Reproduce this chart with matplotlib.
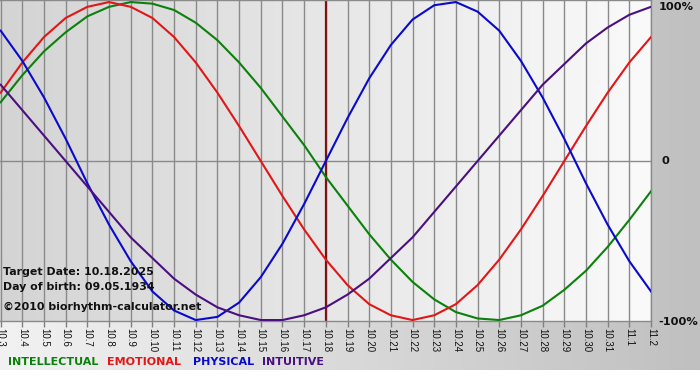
import numpy as np
import matplotlib
matplotlib.use('Agg')
import matplotlib.pyplot as plt
import matplotlib.transforms as mtransforms
from matplotlib.colors import LinearSegmentedColormap

# ---------------- data ----------------
dates = ['10.3', '10.4', '10.5', '10.6', '10.7', '10.8', '10.9', '10.10', '10.11',
         '10.12', '10.13', '10.14', '10.15', '10.16', '10.17', '10.18', '10.19',
         '10.20', '10.21', '10.22', '10.23', '10.24', '10.25', '10.26', '10.27',
         '10.28', '10.29', '10.30', '10.31', '11.1', '11.2']
intellectual = [37, 54, 69, 81, 91, 97, 100, 99, 95, 87, 76, 62, 46, 28, 10, -10,
                -28, -46, -62, -76, -87, -95, -99, -100, -97, -91, -81, -69, -54, -37, -19]
emotional = [43, 62, 78, 90, 97, 100, 97, 90, 78, 62, 43, 22, 0, -22, -43, -62,
             -78, -90, -97, -100, -97, -90, -78, -62, -43, -22, 0, 22, 43, 62, 78]
physical = [82, 63, 40, 14, -14, -40, -63, -82, -94, -100, -98, -89, -73, -52, -27, 0,
            27, 52, 73, 89, 98, 100, 94, 82, 63, 40, 14, -14, -40, -63, -82]
intuitive = [48, 32, 16, 0, -16, -32, -48, -61, -74, -84, -92, -97, -100, -100, -97, -92,
             -84, -74, -61, -48, -32, -16, 0, 16, 32, 48, 61, 74, 84, 92, 97]
series_names = ['INTELLECTUAL', 'EMOTIONAL', 'PHYSICAL', 'INTUITIVE']
target_date = '10.18'
info_lines = ['Target Date: 10.18.2025', 'Day of birth: 09.05.1934',
              '\u00a92010 biorhythm-calculator.net']
y_ticks = [100, 0, -100]
y_tick_labels = ['100%', '0', '-100%']

# ---------------- styling ----------------
colors = ['#0c800c', '#e21616', '#0a0acc', '#4a0f80']
W, H = 700, 380
fig = plt.figure(figsize=(W / 100, H / 100), dpi=100)
fig.patch.set_facecolor('white')

# outer gradient frame
bg = fig.add_axes([0, 10 / H, 1, 1 - 10 / H])
bg.imshow(np.linspace(0, 1, 256)[None, :], aspect='auto',
          cmap=LinearSegmentedColormap.from_list('bg', ['#f2f2f2', '#c0c0c0']),
          extent=[0, 1, 0, 1])
bg.set_axis_off()

ax = fig.add_axes([0, (H - 321) / H, 651 / W, 321 / H])
x = np.arange(len(dates))
x0, x1 = -0.03, len(dates) - 1
y0, y1 = -100.6, 101.3
ax.imshow(np.linspace(0, 1, 256)[None, :], aspect='auto',
          cmap=LinearSegmentedColormap.from_list('pl', ['#d4d4d4', '#fafafa']),
          extent=[x0, x1, y0, y1], zorder=0)
ax.set_xlim(x0, x1)
ax.set_ylim(y0, y1)

ax.set_xticks(x)
ax.set_xticklabels(dates, rotation=-90, fontfamily='Liberation Sans', fontsize=7,
                   color='#111111')
ax.tick_params(axis='x', direction='out', length=4, width=1, color='#808080', pad=1)
ax.set_yticks([])
ax.grid(axis='x', color='#8a8a8a', lw=1, zorder=1)
ax.axhline(0, color='#8a8a8a', lw=1, zorder=1)
ax.spines['left'].set_visible(False)
for side in ['right', 'bottom', 'top']:
    ax.spines[side].set_color('#8a8a8a')
    ax.spines[side].set_linewidth(1)

ax.axvline(dates.index(target_date), color='#7a1414', lw=1.6, zorder=2)

for vals, c in zip([intellectual, emotional, physical, intuitive], colors):
    ax.plot(x, vals, color=c, lw=1.5, zorder=3, solid_joinstyle='round')

# right axis labels
blend = mtransforms.blended_transform_factory(ax.transAxes, ax.transData)
offs = {'100%': (8, -5), '0': (11, 0), '-100%': (7, -2)}
for v, lab in zip(y_ticks, y_tick_labels):
    dx, dy = offs[lab]
    tr = mtransforms.offset_copy(blend, fig=fig, x=dx, y=dy, units='dots')
    ax.text(1.0, v, lab, transform=tr, ha='left', va='center',
            fontweight='bold', fontsize=8.2, color='#111111', clip_on=False)

# info texts
for yy, t in zip([272, 287, 307], info_lines):
    fig.text(3 / W, 1 - yy / H, t, ha='left', va='center', fontweight='bold',
             fontsize=7.9, color='#111111', zorder=5)

# legend texts
for xx, name, c in zip([8, 107, 193, 262], series_names, colors):
    fig.text(xx / W, 1 - 362 / H, name, ha='left', va='center', fontweight='bold',
             fontsize=8, color=c)

fig.savefig('out.png', dpi=100, facecolor=fig.get_facecolor())
